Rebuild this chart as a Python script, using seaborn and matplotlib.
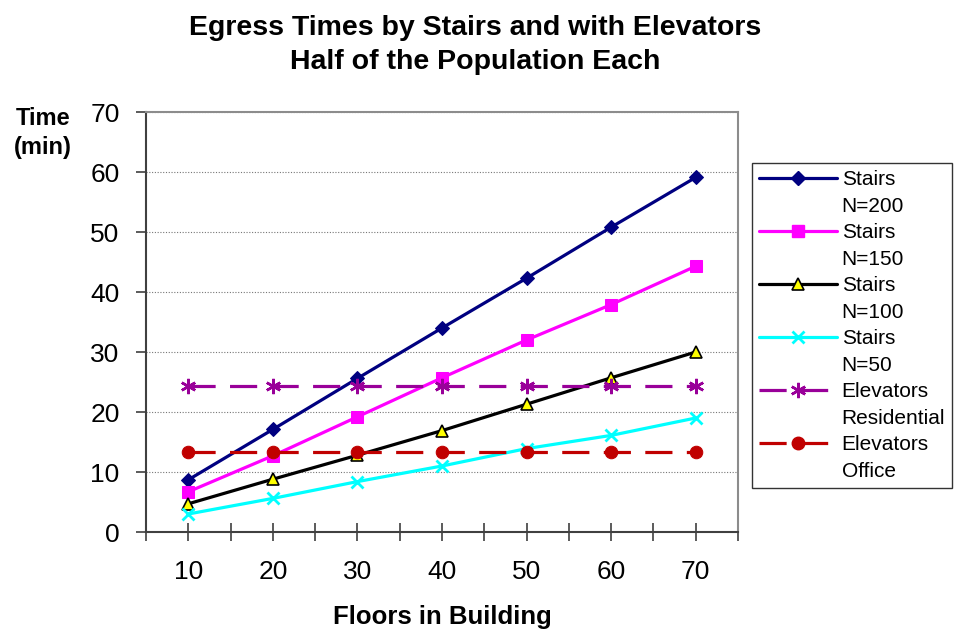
import numpy as np
import pandas as pd
import seaborn as sns
import matplotlib.pyplot as plt
from matplotlib.lines import Line2D
from matplotlib.ticker import MultipleLocator

sns.set_style('ticks')
plt.rcParams['font.family'] = ['Liberation Sans', 'DejaVu Sans']
plt.rcParams['text.color'] = 'black'
plt.rcParams['xtick.labelcolor'] = 'black'
plt.rcParams['ytick.labelcolor'] = 'black'

floors = [10, 20, 30, 40, 50, 60, 70]
stairs_200 = [8.7, 17.1, 25.6, 34.0, 42.3, 50.8, 59.1]
stairs_150 = [6.7, 12.7, 19.2, 25.7, 32.0, 37.9, 44.3]
stairs_100 = [4.7, 8.8, 12.8, 16.9, 21.3, 25.7, 30.0]
stairs_50 = [3.0, 5.6, 8.4, 11.0, 13.9, 16.1, 19.0]
elev_residential = [24.4] * 7
elev_office = [13.4] * 7

series = [
    ('Stairs', 'N=200', stairs_200),
    ('Stairs', 'N=150', stairs_150),
    ('Stairs', 'N=100', stairs_100),
    ('Stairs', 'N=50', stairs_50),
    ('Elevators', 'Residential', elev_residential),
    ('Elevators', 'Office', elev_office),
]

dash = (0, (8.5, 4.5))
styles = [
    dict(color='#000080', marker='D', markersize=7, markerfacecolor='#000080', markeredgecolor='#000080', linestyle='-'),
    dict(color='#FF00FF', marker='s', markersize=9, markerfacecolor='#FF00FF', markeredgecolor='#FF00FF', linestyle='-'),
    dict(color='#000000', marker='^', markersize=8, markerfacecolor='#FFFF00', markeredgecolor='#000000', markeredgewidth=1.2, linestyle='-'),
    dict(color='#00FFFF', marker='x', markersize=9, markeredgecolor='#00FFFF', markeredgewidth=2, linestyle='-'),
    dict(color='#990099', marker=(6, 2, 0), markersize=11, markeredgecolor='#990099', markeredgewidth=1.8, linestyle=dash),
    dict(color='#C00000', marker='o', markersize=9, markerfacecolor='#C00000', markeredgecolor='#C00000', linestyle=dash),
]

fig = plt.figure(figsize=(9.61, 6.31), dpi=100)
ax = fig.add_axes([146 / 961, 1 - 532 / 631, (738 - 146) / 961, (532 - 112) / 631])

handles = []
labels = []
for (name, sub, vals), st in zip(series, styles):
    sns.lineplot(x=floors, y=vals, ax=ax, linewidth=2.3, legend=False, **st)
    handles.append(Line2D([], [], linewidth=2.3, **st))
    labels.append(name)
    handles.append(Line2D([], [], color='none'))
    labels.append(sub)

ax.set_xlim(5, 75)
ax.set_ylim(0, 70)
ax.xaxis.set_major_locator(MultipleLocator(10))
ax.xaxis.set_minor_locator(MultipleLocator(10, offset=5))
ax.yaxis.set_major_locator(MultipleLocator(10))

ax.grid(axis='y', which='major', linestyle=(0, (1, 1.5)), color='#777777', linewidth=0.8)
ax.set_axisbelow(True)

for side in ['left', 'bottom']:
    ax.spines[side].set_color('#404040')
    ax.spines[side].set_linewidth(1.5)
for side in ['top', 'right']:
    ax.spines[side].set_visible(True)
    ax.spines[side].set_color('#8c8c8c')
    ax.spines[side].set_linewidth(1.5)

ax.tick_params(axis='x', which='both', direction='inout', length=13, width=1.2, color='#404040',
               labelsize=19, pad=14)
ax.tick_params(axis='y', which='major', direction='out', length=7, width=1.2, color='#404040',
               labelsize=19, pad=12)
ax.tick_params(axis='x', which='minor', labelbottom=False)
ax.set_xlabel('')
ax.set_ylabel('')

fig.text(475 / 961, 1 - 15 / 631, 'Egress Times by Stairs and with Elevators\nHalf of the Population Each',
         ha='center', va='top', fontsize=20.5, fontweight='bold', linespacing=1.4)
fig.text(43 / 961, 1 - 107 / 631, 'Time\n(min)', ha='center', va='top',
         fontsize=17, fontweight='bold', linespacing=1.35)
fig.text(442 / 961, 1 - 617 / 631, 'Floors in Building', ha='center', va='center',
         fontsize=18.5, fontweight='bold')

leg = fig.legend(handles, labels, loc='upper left', bbox_to_anchor=(752 / 961, 1 - 163 / 631),
                 bbox_transform=fig.transFigure, borderaxespad=0, fontsize=15,
                 frameon=True, fancybox=False, edgecolor='#333333', framealpha=1,
                 handlelength=3.75, handletextpad=0.2, labelspacing=0.36,
                 borderpad=0.35)
leg.get_frame().set_linewidth(1.0)

plt.savefig('out.png', dpi=100)
plt.close()
